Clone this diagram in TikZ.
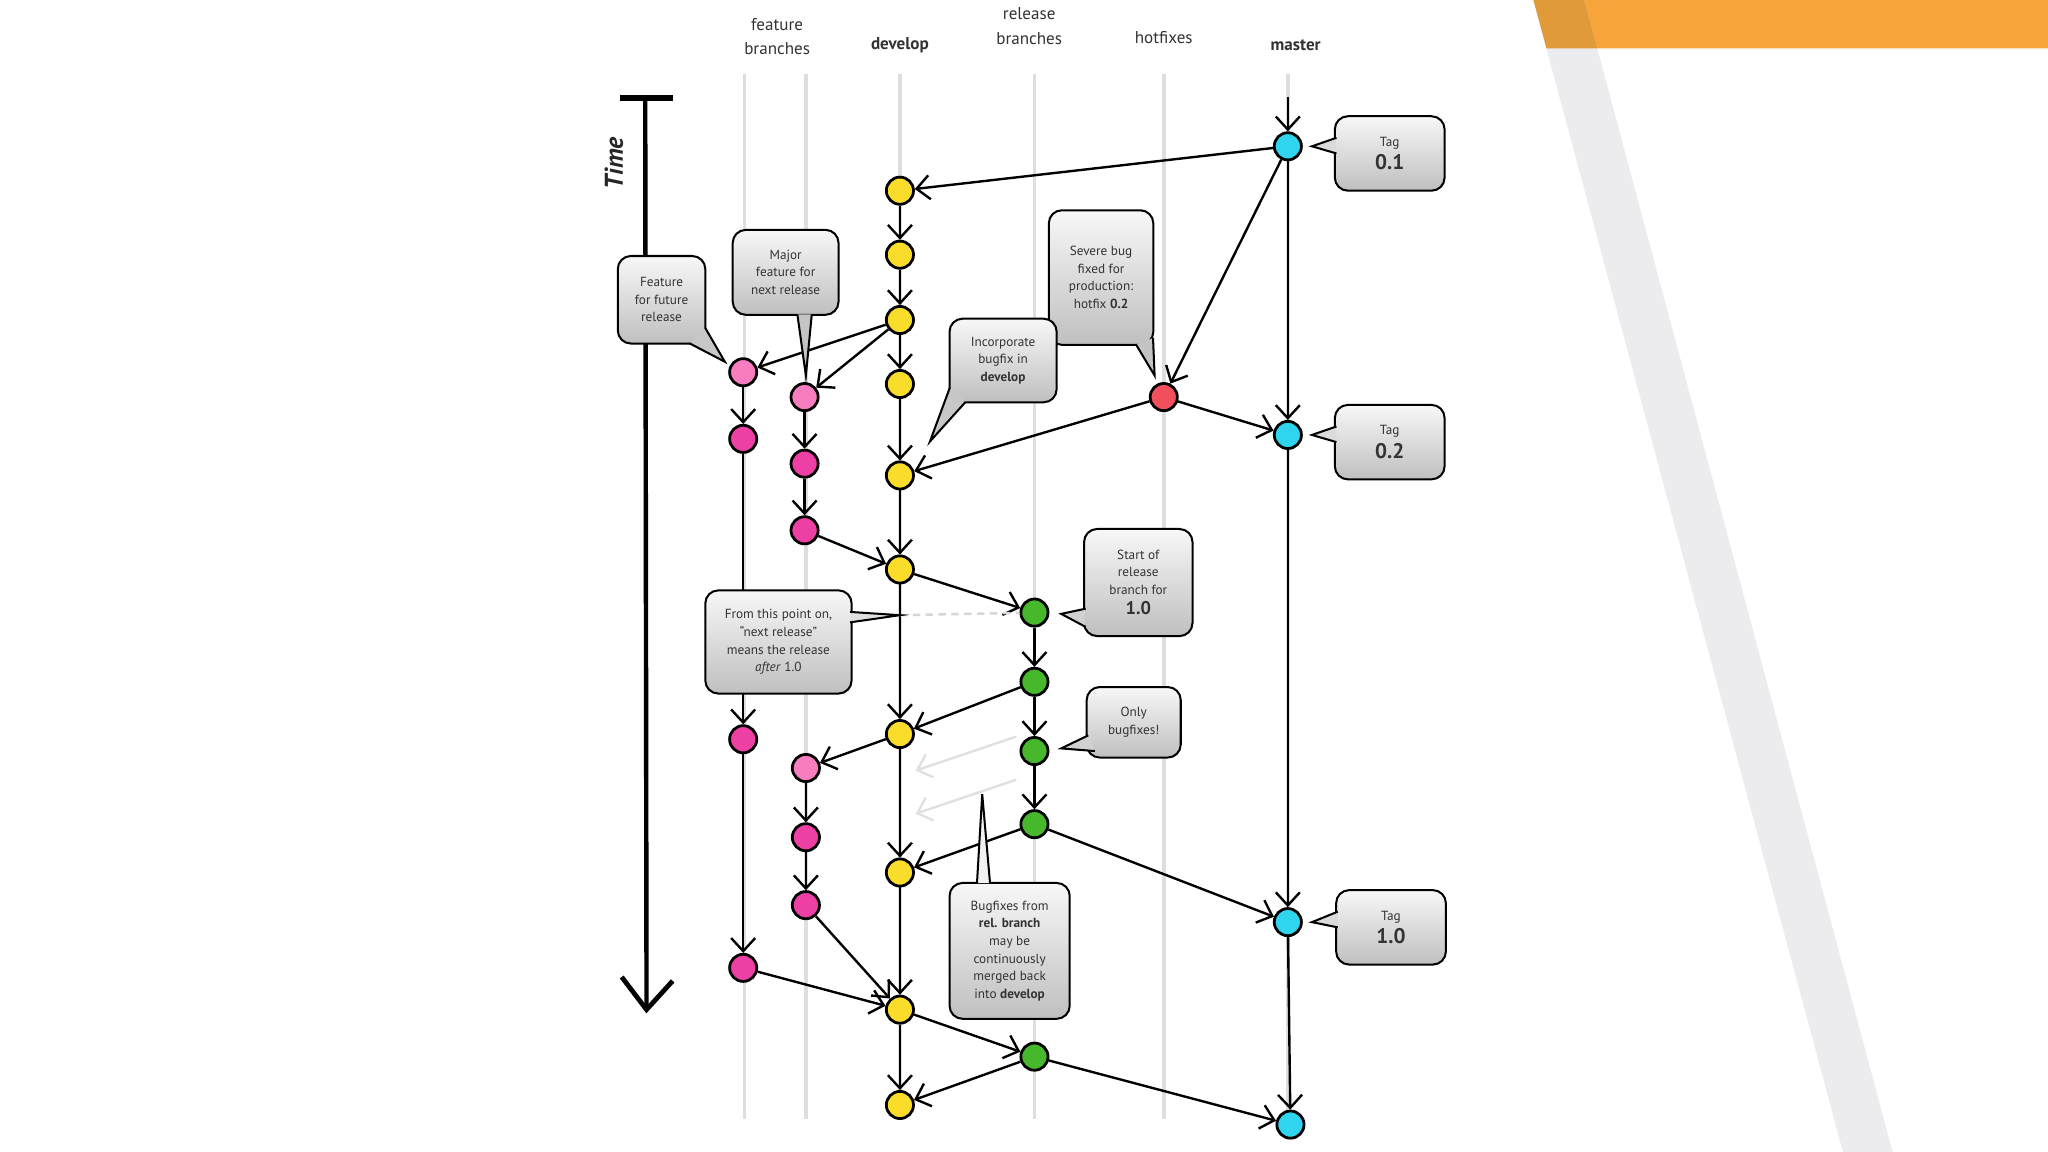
\documentclass[tikz,border=0pt]{standalone}
\usepackage{fontspec}
\setmainfont{PT Sans}
\usetikzlibrary{calc, positioning, arrows.meta}

\definecolor{devyellow}{HTML}{FADC2A}
\definecolor{featpink}{HTML}{EE3FA5}
\definecolor{featlight}{HTML}{F77DBF}
\definecolor{relgreen}{HTML}{47B82B}
\definecolor{tagcyan}{HTML}{2FD5EF}
\definecolor{fixred}{HTML}{F24F5C}
\definecolor{slideorange}{HTML}{F7A43A}
\definecolor{slideshade}{HTML}{E09A37}
\definecolor{slidegray}{HTML}{ECEBEE}

\begin{document}
\begin{tikzpicture}[x=0.025cm, y=-0.025cm, >={Straight Barb[length=2.5mm, width=4.6mm]},
        commit/.style={circle, draw, line width=1.5pt, minimum size=0.52cm, inner sep=0pt},
        flow/.style={->, line width=1.3pt},
        lane/.style={line width=2.1pt, black!13},
        colhead/.style={font=\fontsize{9.3}{13.5}\selectfont, text=black!80, align=center},
        callbox/.style={draw, line width=1.1pt, rounded corners=2.5mm, top color=black!3, bottom color=black!25,
            text=black!80, font=\fontsize{7.2}{9.6}\selectfont, align=center, inner sep=1pt},
        notetip/.style={fill=black!14, draw, line width=1.1pt, line join=miter}]

        % slide background
        \useasboundingbox (0,0) rectangle (1568,882);
        \fill[white] (0,0) rectangle (1568,882);
        \fill[slidegray] (1174,0) -- (1213,0) -- (1449,882) -- (1411,882) -- cycle;
        \fill[slideorange] (1213,0) -- (1568,0) -- (1568,37) -- (1223,37) -- cycle;
        \fill[slideshade] (1174,0) -- (1213,0) -- (1223,37) -- (1184,37) -- cycle;

        % column headers
        \node[colhead] (hfeat) at (595,28) {feature\\branches};
        \node[colhead, font=\fontsize{9.3}{13.5}\selectfont\bfseries] (hdev) at (689,35) {develop};
        \node[colhead] (hrel) at (788,20) {release\\branches};
        \node[colhead] (hhot) at (891,29) {hotfixes};
        \node[colhead, font=\fontsize{9.3}{13.5}\selectfont\bfseries] (hmas) at (992,35) {master};

        \foreach \x in {570,617,689,792,891,986}
            \draw[lane] (\x,57) -- (\x,857);

        % time axis
        \node[rotate=90, font=\fontsize{14}{16}\selectfont\bfseries\itshape, text=black!85] (tlabel) at (470,125) {Time};
        \coordinate (ttop) at (494,75);
        \coordinate (tend) at (495,773);
        \draw[line width=3pt] ($(ttop)+(-19,0)$) -- ($(ttop)+(21,0)$);
        \draw[line width=2.4pt] (ttop) -- (tend);
        \draw[line width=2.6pt, line join=miter] ($(tend)+(-19,-25)$) -- (tend) -- ($(tend)+(20,-22)$);

        % commits
        \foreach \n/\y in {m1/112, m2/333, m3/706}
            \node[commit, fill=tagcyan] (\n) at (986,\y) {};
        \node[commit, fill=tagcyan] (m4) at (988,861) {};
        \node[commit, fill=fixred] (h1) at (891,304) {};
        \foreach \n/\y in {r1/469, r2/522, r3/575, r4/631, r5/809}
            \node[commit, fill=relgreen] (\n) at (792,\y) {};
        \foreach \n/\y in {d1/146, d2/195, d3/245, d4/294, d5/364, d6/436, d7/562, d8/668, d9/773, d10/846}
            \node[commit, fill=devyellow] (\n) at (689,\y) {};
        \node[commit, fill=featlight] (fa1) at (569,285) {};
        \foreach \n/\y in {fa2/336, fa3/566, fa4/741}
            \node[commit, fill=featpink] (\n) at (569,\y) {};
        \node[commit, fill=featlight] (fb1) at (616,304) {};
        \foreach \n/\y in {fb2/355, fb3/406}
            \node[commit, fill=featpink] (\n) at (616,\y) {};
        \node[commit, fill=featlight] (fc1) at (617,588) {};
        \foreach \n/\y in {fc2/641, fc3/693}
            \node[commit, fill=featpink] (\n) at (617,\y) {};

        % history
        \coordinate (mstart) at (986,74);
        \draw[flow] (mstart) -- (m1);
        \foreach \a/\b in {m1/m2, m2/m3, m3/m4, d1/d2, d2/d3, d3/d4, d4/d5, d5/d6, d6/d7, d7/d8, d8/d9, d9/d10,
                r1/r2, r2/r3, r3/r4, fa1/fa2, fa2/fa3, fa3/fa4, fb1/fb2, fb2/fb3, fc1/fc2, fc2/fc3}
            \draw[flow] (\a) -- (\b);
        \foreach \a/\b in {m1/d1, m1/h1, h1/m2, h1/d5, d3/fa1, d3/fb1, fb3/d6, d6/r1, r2/d7, d7/fc1,
                r4/d8, r4/m3, fc3/d9, fa4/d9, d9/r5, r5/d10, r5/m4}
            \draw[flow] (\a) -- (\b);

        \coordinate (ga) at (778,564);
        \coordinate (gb) at (701,590);
        \coordinate (gc) at (778,597);
        \coordinate (gd) at (701,623);
        \draw[flow, black!12] (ga) -- (gb);
        \draw[flow, black!12] (gc) -- (gd);

        \coordinate (cut) at (689,471);
        \draw[black!16, line width=1.3pt, dash pattern=on 4pt off 3pt] (cut) -- (r1);

        % callouts
        \node[callbox, minimum width=2.1cm, minimum height=1.425cm] (tag01) at (1064,117.5) {Tag\\[2pt]{\fontsize{11.5}{12}\selectfont\bfseries 0.1}};
        \node[callbox, minimum width=2.1cm, minimum height=1.425cm] (tag02) at (1064,338.5) {Tag\\[2pt]{\fontsize{11.5}{12}\selectfont\bfseries 0.2}};
        \node[callbox, minimum width=2.1cm, minimum height=1.425cm] (tag10) at (1065,710) {Tag\\[2pt]{\fontsize{11.5}{12}\selectfont\bfseries 1.0}};
        \node[callbox, minimum width=1.675cm, minimum height=1.675cm] (future) at (506.5,229.5) {Feature\\for future\\release};
        \node[callbox, minimum width=2.025cm, minimum height=1.625cm] (major) at (601.5,208.5) {Major\\feature for\\next release};
        \node[callbox, minimum width=2cm, minimum height=2.575cm] (severe) at (843,212.5) {Severe bug\\fixed for\\production:\\hotfix \textbf{0.2}};
        \node[callbox, minimum width=2.05cm, minimum height=1.6cm] (incorp) at (768,276) {Incorporate\\bugfix in\\\textbf{develop}};
        \node[callbox, minimum width=2.075cm, minimum height=2.05cm] (start) at (871.5,446) {Start of\\release\\branch for\\[1.5pt]{\fontsize{10}{11}\selectfont\bfseries 1.0}};
        \node[callbox, minimum width=2.8cm, minimum height=1.975cm] (point) at (596,491.5) {From this point on,\\“next release”\\means the release\\\textit{after} 1.0};
        \node[callbox, minimum width=1.8cm, minimum height=1.35cm] (only) at (868,553) {Only\\bugfixes!};
        \node[callbox, minimum width=2.3cm, minimum height=2.6cm] (merged) at (773,728) {Bugfixes from\\\textbf{rel. branch}\\may be\\continuously\\merged back\\into \textbf{develop}};

        \filldraw[notetip] ($(tag01.west)+(2,-12)$) -- ($(m1.east)+(7,0)$) -- ($(tag01.west)+(2,0)$);
        \filldraw[notetip] ($(tag02.west)+(2,-12)$) -- ($(m2.east)+(7,0)$) -- ($(tag02.west)+(2,0)$);
        \filldraw[notetip] ($(tag10.west)+(2,-12)$) -- ($(m3.east)+(7,0)$) -- ($(tag10.west)+(2,0)$);
        \filldraw[notetip, fill=black!22] ($(future.south east)+(-13,-1)$) -- ($(fa1)+(-14,-8)$) -- ($(future.south east)+(-1,-13)$);
        \filldraw[notetip, fill=black!23] ($(major.south)+(9,-1)$) -- ($(fb1.north)+(1,-5)$) -- ($(major.south)+(20,-1)$);
        \filldraw[notetip, fill=black!23] ($(severe.south east)+(-14,-1)$) -- ($(h1.north)+(-7,-5)$) -- ($(severe.south east)+(-1,-6)$);
        \filldraw[notetip, fill=black!22] ($(incorp.south west)+(1,-12)$) -- ($(d5)+(23,-26)$) -- ($(incorp.south west)+(13,-1)$);
        \filldraw[notetip, fill=black!18] ($(start.west)+(2,20)$) -- ($(r1.east)+(9,1)$) -- ($(start.west)+(2,34)$);
        \filldraw[notetip, fill=black!12] ($(point.east)+(-2,-23)$) -- (cut) -- ($(point.east)+(-2,-15)$);
        \filldraw[notetip, fill=black!18] ($(only.west)+(2,10)$) -- ($(r3.east)+(9,-2)$) -- ($(only.west)+(7,22)$);
        \coordinate (mergetip) at (752,608);
        \filldraw[notetip, fill=black!5] ($(merged.north)+(-25,1)$) -- (mergetip) -- ($(merged.north)+(-15,1)$);
\end{tikzpicture}
\end{document}
